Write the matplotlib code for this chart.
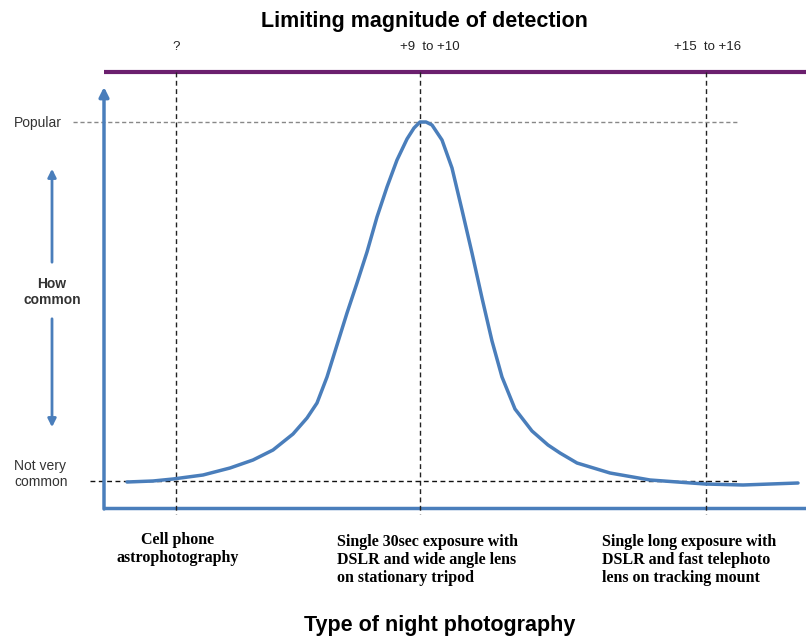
import numpy as np
import matplotlib
matplotlib.use('Agg')
import matplotlib.pyplot as plt

# curve: how common each kind of night photography is (arbitrary units)
curve_x = [23, 49, 69, 99, 126, 149, 169, 189, 203, 213, 223, 233, 243, 253, 263, 273,
           283, 293, 303, 310, 316, 322, 328, 338, 348, 358, 368, 378, 388, 398, 411,
           428, 444, 456, 473, 506, 546, 601, 639, 694]
curve_y = [26, 27, 29, 33, 40, 48, 58, 74, 90, 105, 131, 163, 195, 225, 256, 291,
           321, 348, 369, 380, 386, 386, 383, 368, 340, 298, 255, 210, 167, 131, 99,
           77, 63, 55, 45, 35, 28, 24, 23, 25]

# markers along the x axis
mark_x = [72, 316, 602]
top_labels = ['?', '+9  to +10', '+15  to +16']
bottom_labels = ['Cell phone\nastrophotography',
                 'Single 30sec exposure with\nDSLR and wide angle lens\non stationary tripod',
                 'Single long exposure with\nDSLR and fast telephoto\nlens on tracking mount']
popular_y = 386
rare_y = 27

W, H = 806, 639
blue = '#4a7ebb'
purple = '#6b1f6e'
sans = ['Liberation Sans', 'DejaVu Sans']
serif = ['Liberation Serif', 'DejaVu Serif']

fig = plt.figure(figsize=(W / 100, H / 100), dpi=100)
fig.patch.set_facecolor('white')
ax = fig.add_axes([104 / W, (H - 508) / H, (W - 104) / W, (508 - 72) / H])
ax.set_xlim(0, 702)
ax.set_ylim(0, 436)
ax.axis('off')

# axes
ax.plot([0, 702], [436, 436], color=purple, lw=3, solid_capstyle='butt', clip_on=False)
ax.plot([0, 702], [0, 0], color=blue, lw=2.5, solid_capstyle='butt', clip_on=False)
ax.annotate('', xy=(0, 421), xytext=(0, -1),
            arrowprops=dict(arrowstyle='-|>', color=blue, lw=2.5, mutation_scale=14,
                            shrinkA=0, shrinkB=0), annotation_clip=False)

# reference lines
for x in mark_x:
    ax.plot([x, x], [436, -6], color='#222222', lw=1, ls=(0, (3.5, 2.5)), clip_on=False)
ax.plot([-31, 633], [popular_y, popular_y], color='#888888', lw=1, ls=(0, (3, 2)), clip_on=False)
ax.plot([-14, 633], [rare_y, rare_y], color='#111111', lw=1, ls=(0, (3.5, 2.5)), clip_on=False)

ax.plot(curve_x, curve_y, color=blue, lw=2.5, solid_capstyle='round',
        solid_joinstyle='round', zorder=5)

def fx(px):
    return px / W

def fy(py):
    return 1 - py / H

fig.text(fx(424), fy(21), 'Limiting magnitude of detection', family=sans, fontsize=15.5,
         fontweight='bold', ha='center', va='center')
fig.text(fx(440), fy(626), 'Type of night photography', family=sans, fontsize=15.5,
         fontweight='bold', ha='center', va='center')

top_px = [176, 430, 708]
for px, lab in zip(top_px, top_labels):
    fig.text(fx(px), fy(47), lab, family=sans, fontsize=9.5, ha='center', va='center', color='#222222')

fig.text(fx(14), fy(123), 'Popular', family=sans, fontsize=10, ha='left', va='center', color='#333333')
fig.text(fx(14), fy(474), 'Not very\ncommon', family=sans, fontsize=10, ha='left', va='center',
         color='#333333', linespacing=1.25)
fig.text(fx(52), fy(292), 'How\ncommon', family=sans, fontsize=10, fontweight='bold',
         ha='center', va='center', color='#333333', linespacing=1.2)

# double arrow for "how common"
fig.add_artist(matplotlib.patches.FancyArrowPatch((fx(52), fy(265)), (fx(52), fy(166)),
               transform=fig.transFigure, arrowstyle='-|>', color=blue, lw=2, mutation_scale=12))
fig.add_artist(matplotlib.patches.FancyArrowPatch((fx(52), fy(316)), (fx(52), fy(430)),
               transform=fig.transFigure, arrowstyle='-|>', color=blue, lw=2, mutation_scale=12))

fig.text(fx(178), fy(549), bottom_labels[0], family=serif, fontsize=11.5, fontweight='bold',
         ha='center', va='center', linespacing=1.15)
fig.text(fx(337), fy(560), bottom_labels[1], family=serif, fontsize=11.5, fontweight='bold',
         ha='left', va='center', linespacing=1.15)
fig.text(fx(602), fy(560), bottom_labels[2], family=serif, fontsize=11.5, fontweight='bold',
         ha='left', va='center', linespacing=1.15)

fig.savefig('out.png', dpi=100)
